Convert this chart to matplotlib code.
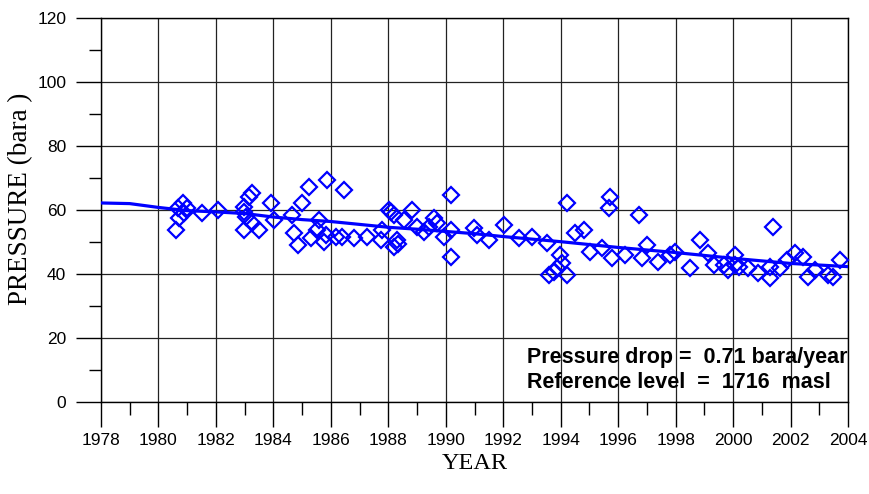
import matplotlib
matplotlib.use("Agg")
import matplotlib.pyplot as plt
from matplotlib.ticker import MultipleLocator

# ---- data ----
obs_year = [1980.61, 1980.67, 1980.84, 1980.90, 1980.72, 1981.00, 1981.53, 1982.08,
            1983.27, 1983.15, 1982.98, 1982.98, 1983.04, 1982.98, 1983.50, 1983.27,
            1983.90, 1984.02, 1985.24, 1985.88, 1986.46, 1985.00, 1984.66, 1984.72,
            1984.84, 1985.30, 1985.59, 1985.53, 1985.76, 1985.82, 1986.17, 1986.40,
            1986.80, 1987.27, 1987.73, 1987.79, 1988.02, 1988.20, 1988.20, 1988.10,
            1988.83, 1988.54, 1988.30, 1988.32, 1989.00, 1989.24, 1989.40, 1989.58,
            1989.70, 1989.93, 1990.17, 1990.17, 1990.17, 1990.98, 1991.09, 1991.50,
            1992.02, 1992.54, 1993.00, 1993.53, 1994.22, 1994.50, 1994.80, 1993.99,
            1993.58, 1993.75, 1993.87, 1994.22, 1994.05, 1995.03, 1995.43, 1995.78,
            1995.67, 1995.73, 1996.25, 1996.71, 1996.83, 1997.00, 1997.40, 1997.81,
            1997.99, 1998.50, 1998.85, 1999.14, 1999.32, 1999.67, 1999.84, 2000.07,
            2000.07, 2000.19, 2000.53, 2000.88, 2001.29, 2001.29, 2001.40, 2001.63,
            2001.87, 2002.16, 2002.45, 2002.62, 2002.86, 2003.32, 2003.49, 2003.72]
obs_pressure = [53.8, 60.5, 62.1, 59.0, 57.4, 60.5, 59.0, 60.0,
                65.2, 64.2, 61.0, 59.5, 57.9, 53.9, 53.9, 55.8,
                62.1, 56.9, 67.3, 69.4, 66.3, 62.3, 58.4, 52.7,
                49.2, 51.1, 56.9, 53.7, 50.1, 52.2, 51.7, 51.7,
                51.1, 51.7, 50.6, 53.7, 60.0, 58.4, 48.5, 59.5,
                60.0, 56.9, 50.6, 49.5, 54.8, 53.2, 54.8, 57.4,
                55.8, 51.7, 64.7, 53.7, 45.4, 54.3, 52.2, 50.6,
                55.3, 51.1, 51.7, 49.6, 62.1, 52.7, 53.7, 45.9,
                39.7, 40.7, 41.8, 39.7, 43.3, 47.0, 48.0, 44.9,
                60.5, 64.2, 45.9, 58.4, 44.9, 49.0, 43.8, 45.9,
                47.0, 41.8, 50.6, 46.5, 42.8, 42.8, 41.3, 45.9,
                42.8, 42.3, 41.8, 40.2, 42.3, 38.6, 54.6, 41.8,
                44.4, 46.5, 45.4, 39.2, 41.3, 39.7, 39.2, 44.4]

trend_year = list(range(1978, 2005))
trend_pressure = [62.2, 62.0, 60.8, 59.8, 59.4, 58.9, 57.8, 57.0, 56.4, 55.5,
                  54.6, 54.0, 53.3, 52.6, 51.7, 50.9, 50.1, 49.2, 48.3, 47.5,
                  46.7, 45.8, 44.9, 44.1, 43.3, 42.8, 42.3]

x_ticks = list(range(1978, 2005, 2))
y_ticks = list(range(0, 121, 20))
annot_lines = ["Pressure drop =  0.71 bara/year", "Reference level  =  1716  masl"]

# ---- figure ----
fig = plt.figure(figsize=(8.7, 4.94), dpi=100)
ax = fig.add_axes([101/870, 1 - 402/494, (848-101)/870, (402-18)/494])

ax.plot(obs_year, obs_pressure, linestyle='none', marker='D', markersize=8,
        markerfacecolor='none', markeredgecolor='#0000ff', markeredgewidth=1.6,
        zorder=3, clip_on=False)
ax.plot(trend_year, trend_pressure, color='#0000ff', linewidth=2.3, zorder=4)

ax.set_xlim(1978, 2004)
ax.set_ylim(0, 120)
ax.set_xticks(x_ticks)
ax.set_yticks(y_ticks)
ax.xaxis.set_minor_locator(MultipleLocator(1))
ax.yaxis.set_minor_locator(MultipleLocator(10))

ax.grid(True, which='major', color='#222222', linewidth=0.9, zorder=1)
ax.set_axisbelow(True)
for s in ax.spines.values():
    s.set_linewidth(1.0)
    s.set_color('black')

ax.tick_params(which='major', direction='out', length=18, width=1.0)
ax.tick_params(which='minor', direction='out', length=9, width=1.0)
ax.tick_params(axis='x', which='major', pad=4)
ax.tick_params(axis='y', which='major', pad=7)
for lab in ax.get_xticklabels() + ax.get_yticklabels():
    lab.set_family('Liberation Sans')
    lab.set_fontsize(12.5)

ax.set_xlabel('YEAR', family='Liberation Serif', fontsize=17.5, labelpad=4)
ax.set_ylabel('PRESSURE (bara )', family='Liberation Serif', fontsize=19.5)
ax.yaxis.set_label_coords(-0.091, 0.53)

ax.text(527/870, 1 - 358/494, annot_lines[0], transform=fig.transFigure, ha='left', va='center',
        family='Liberation Sans', fontweight='bold', fontsize=15.5)
ax.text(527/870, 1 - 382/494, annot_lines[1], transform=fig.transFigure, ha='left', va='center',
        family='Liberation Sans', fontweight='bold', fontsize=15.5)

fig.savefig('out.png', dpi=100)
